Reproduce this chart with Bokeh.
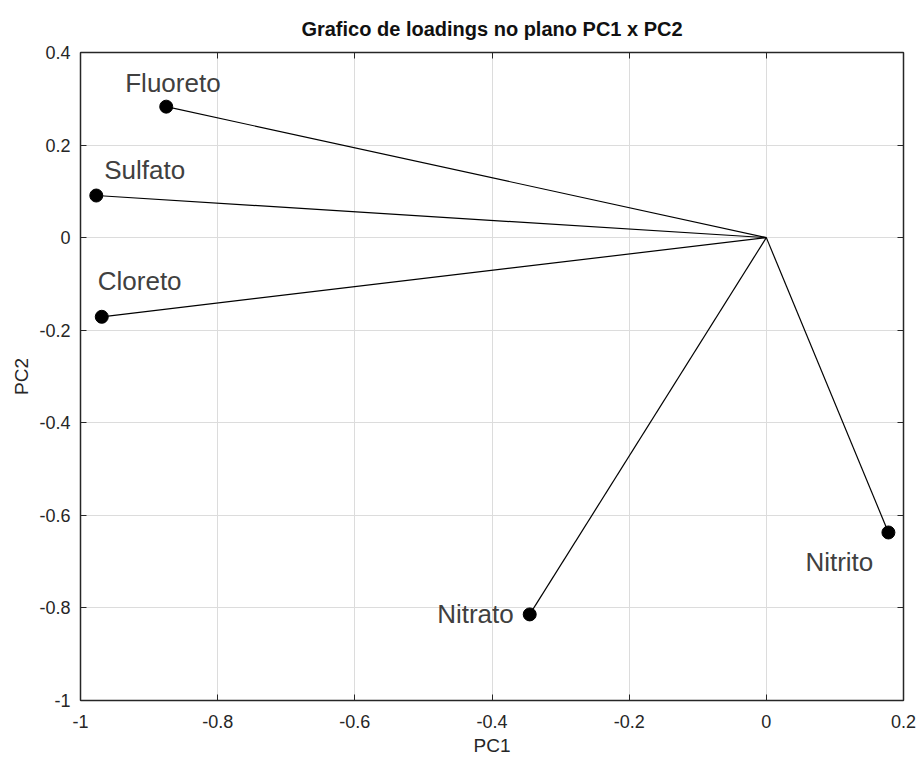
from bokeh.plotting import figure
from bokeh.models import Range1d, FixedTicker, LinearAxis, ColumnDataSource, Title, Grid
from bokeh.core.properties import value
from bokeh.embed import file_html
from bokeh.resources import INLINE

variables = ["Fluoreto", "Sulfato", "Cloreto", "Nitrato", "Nitrito"]
pc1 = [-0.875, -0.977, -0.969, -0.345, 0.178]
pc2 = [0.283, 0.091, -0.171, -0.814, -0.637]
origin_x = 0.0
origin_y = 0.0

x_ticks = [-1, -0.8, -0.6, -0.4, -0.2, 0, 0.2]
x_tick_labels = ["-1", "-0.8", "-0.6", "-0.4", "-0.2", "0", "0.2"]
y_ticks = [-1, -0.8, -0.6, -0.4, -0.2, 0, 0.2, 0.4]
y_tick_labels = ["-1", "-0.8", "-0.6", "-0.4", "-0.2", "0", "0.2", "0.4"]

# label placement (pixel offsets, styling only)
label_dx = [-41, 8, -4, -16, -83]
label_dy = [-24, -26, -36, 0, 30]
label_align = ["left", "left", "left", "right", "left"]

src = ColumnDataSource(dict(
    name=variables, x=pc1, y=pc2,
    x0=[origin_x] * len(pc1), y0=[origin_y] * len(pc2),
    dx=label_dx, dy=label_dy, align=label_align,
))

p = figure(frame_width=823, frame_height=648, output_backend="svg",
           toolbar_location=None,
           x_range=Range1d(-1, 0.2), y_range=Range1d(-1, 0.4),
           min_border_left=80, min_border_right=17, min_border_top=52,
           min_border_bottom=58, x_axis_location=None, y_axis_location=None)

p.title = Title(text="Grafico de loadings no plano PC1 x PC2", align="center",
                text_font="Liberation Sans", text_font_size="20px",
                text_font_style="bold", text_color="#111111", standoff=26)

p.background_fill_color = "white"
p.border_fill_color = "white"
p.outline_line_color = "#262626"
p.outline_line_width = 1


def make_axis(loc, ticks, labels, show_labels, axis_label=None, standoff=10):
    ax = LinearAxis(ticker=FixedTicker(ticks=ticks))
    ax.major_label_overrides = {t: l for t, l in zip(ticks, labels)}
    ax.major_tick_in = 6
    ax.major_tick_out = 0
    ax.minor_tick_line_color = None
    ax.axis_line_color = "#262626"
    ax.axis_line_width = 1.5
    ax.major_tick_line_color = "#262626"
    ax.major_label_text_font = "Liberation Sans"
    ax.major_label_text_font_size = "18px"
    ax.major_label_text_color = "#262626"
    ax.major_label_standoff = standoff
    if not show_labels:
        ax.major_label_text_color = None
        ax.major_label_text_font_size = "0px"
        ax.major_label_standoff = 0
    if axis_label:
        ax.axis_label = axis_label
        ax.axis_label_text_font = "Liberation Sans"
        ax.axis_label_text_font_size = "19px"
        ax.axis_label_text_font_style = "normal"
        ax.axis_label_text_color = "#262626"
        ax.axis_label_standoff = 4
    p.add_layout(ax, loc)
    return ax


make_axis("below", x_ticks, x_tick_labels, True, "PC1", standoff=14)
make_axis("left", y_ticks, y_tick_labels, True, "PC2", standoff=10)
make_axis("above", x_ticks, x_tick_labels, False)
make_axis("right", y_ticks, y_tick_labels, False)

p.xgrid.visible = False
p.ygrid.visible = False
p.add_layout(Grid(dimension=0, ticker=FixedTicker(ticks=x_ticks),
                  grid_line_color="#dcdcdc", grid_line_width=1))
p.add_layout(Grid(dimension=1, ticker=FixedTicker(ticks=y_ticks),
                  grid_line_color="#dcdcdc", grid_line_width=1))

p.segment(x0="x0", y0="y0", x1="x", y1="y", source=src,
          line_color="black", line_width=1.2)
p.scatter(x="x", y="y", source=src, size=13, fill_color="black",
          line_color="black")
p.text(x="x", y="y", text="name", source=src, x_offset="dx", y_offset="dy",
       text_align="align", text_baseline="middle",
       text_font=value("Liberation Sans"), text_font_size="26px",
       text_color="#404040")

open("out.html", "w").write(file_html(p, INLINE))
